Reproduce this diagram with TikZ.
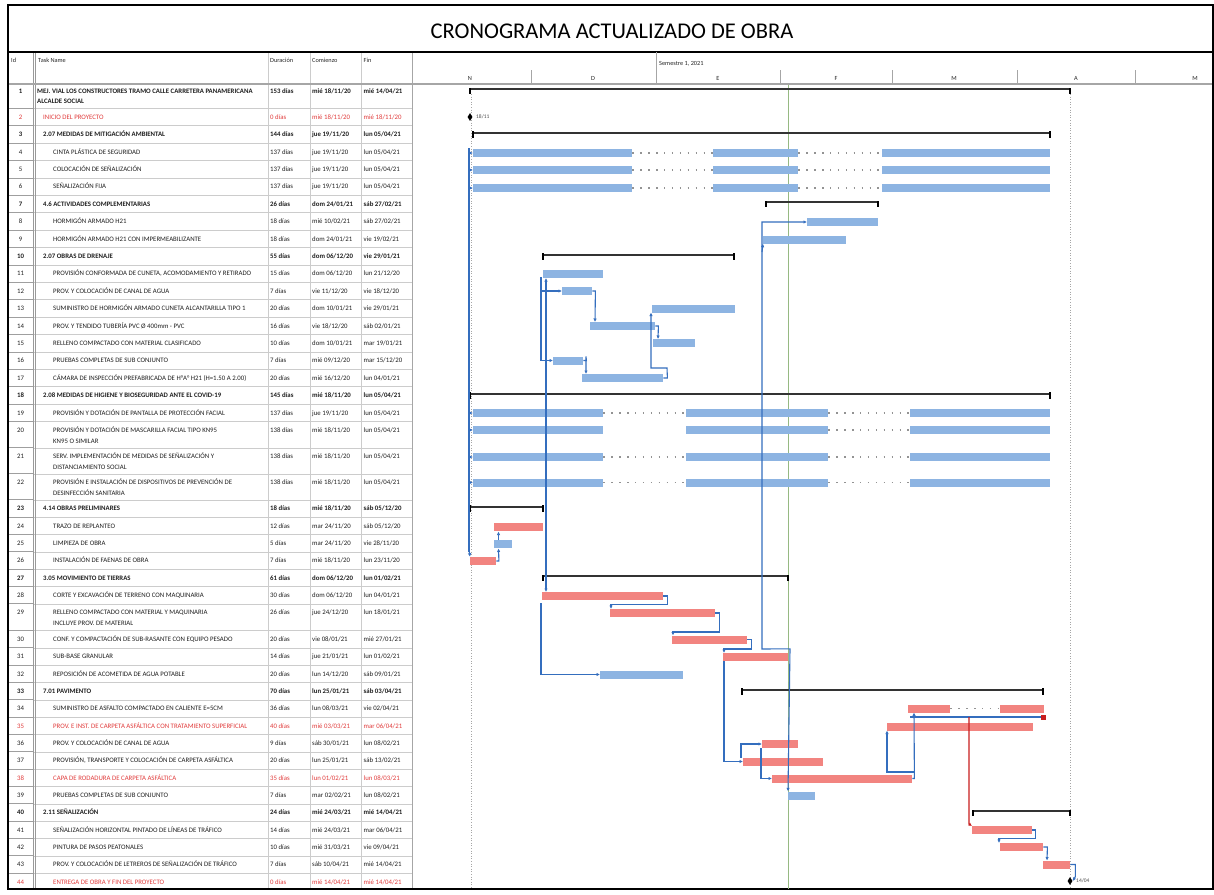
\documentclass[tikz,border=0pt]{standalone}
\usepackage{fontspec}
\setmainfont{Carlito}
\usetikzlibrary{arrows.meta,shapes.geometric}
\definecolor{barblue}{RGB}{141,180,226}
\definecolor{barred}{RGB}{242,132,128}
\definecolor{linkblue}{RGB}{52,110,190}
\definecolor{linkred}{RGB}{200,30,30}
\definecolor{txtred}{RGB}{225,60,60}
\definecolor{statgreen}{RGB}{150,185,130}
\newcommand\TRow[8]{%
  \node[cell,#4,anchor=base] (id#1) at (20.5,#2+2.3) {#1};
  \node[cell,#4] (tn#1) at (#3,#2+2.3) {#5};
  \node[cell,#4] (du#1) at (270,#2+2.3) {#6};
  \node[cell,#4] (co#1) at (312,#2+2.3) {#7};
  \node[cell,#4] (fi#1) at (363.5,#2+2.3) {#8};}
\newcommand\GBar[5]{\node[#1,minimum width={#4-#3}] (#2) at (#3,#5) {};}
\newcommand\SumBar[3]{%
  \draw[sumline] (#1,#3) -- (#2,#3);
  \fill[black] (#1-1.2,#3-1.5) rectangle (#1+1.2,#3+5);
  \fill[black] (#2-1.2,#3-1.5) rectangle (#2+1.2,#3+5);}
\newcommand\MS[4]{\node[ms] (#1) at (#2,#3) {};
  \node[mslabel] (#1l) at (#2+6,#3) {#4};}
\begin{document}
\begin{tikzpicture}[x=1pt,y=-1pt,
  cell/.style={anchor=base west,inner sep=0pt,font=\fontsize{6.8}{8}\selectfont,text=black!88},
  sumtxt/.style={font=\fontsize{6.8}{8}\selectfont\bfseries},
  redtxt/.style={text=txtred},
  hdr/.style={anchor=base west,inner sep=0pt,font=\fontsize{6.3}{7}\selectfont,text=black!85},
  bb/.style={fill=barblue,draw=none,anchor=west,minimum height=8,inner sep=0pt},
  rb/.style={fill=barred,draw=none,anchor=west,minimum height=8,inner sep=0pt},
  sumline/.style={draw=black!80,line width=2pt},
  gapdots/.style={draw=gray!85,line width=1.4pt,dash pattern=on 1.4pt off 6.5pt},
  link/.style={draw=linkblue,line width=1.1pt},
  redlink/.style={draw=linkred,line width=1.1pt},
  tip/.tip={Latex[length=3.5pt,width=3.5pt]},
  ms/.style={fill=black,diamond,inner sep=0pt,minimum width=5,minimum height=8},
  mslabel/.style={anchor=west,inner sep=0pt,font=\fontsize{5.5}{6}\selectfont,text=black!70},
  grid/.style={draw=gray!40,line width=0.5pt},
  idgrid/.style={draw=gray!75,line width=0.7pt}]
\useasboundingbox (0,0) rectangle (1214,894);
\fill[white] (0,0) rectangle (1214,894);

% ---------- title ----------
\node[font=\fontsize{22.5}{26}\selectfont,text=black] (title) at (612,31) {CRONOGRAMA ACTUALIZADO DE OBRA};

% ---------- table grid ----------
\foreach \y in {108.3,125.7,143.1,160.5,177.9,195.3,212.7,230.1,247.5,264.9,282.3,299.7,317.1,334.5,351.9,369.3,386.7,404.1,421.5,447.8,473.8,499.8,517.3,534.3,551.8,569.3,586.3,603.8,630.3,647.8,665.3,682.3,699.8,717.3,734.3,751.8,769.3,786.3,803.8,821.3,838.3,855.8,873.3}{
  \draw[grid] (33,\y) -- (412,\y);
  \draw[idgrid] (8,\y) -- (33,\y);}
\draw[grid] (268,52) -- (268,889);
\draw[grid] (310,52) -- (310,889);
\draw[grid] (361,52) -- (361,889);
\draw[draw=gray!80,line width=0.9pt] (33,52) -- (33,889);
\draw[draw=gray!80,line width=0.9pt] (35,52) -- (35,889);
\draw[draw=gray!70,line width=0.8pt] (412,52) -- (412,889);
\draw[draw=gray!70,line width=1.2pt] (8,84) -- (1213,84);
\draw[black,line width=1.5pt] (8,52) -- (1213,52);
\draw[black,line width=1.3pt] (8,5) rectangle (1213,889);

% ---------- headers ----------
\node[hdr] (hId) at (11,62) {Id};
\node[hdr] (hTask) at (38,62) {Task Name};
\node[hdr] (hDur) at (270,62) {Duración};
\node[hdr] (hCom) at (312,62) {Comienzo};
\node[hdr] (hFin) at (363.5,62) {Fin};
\node[hdr] (hSem) at (659,65) {Semestre 1, 2021};
\draw[draw=gray!70,line width=0.8pt] (656,52) -- (656,84);
\foreach \x in {531,780,892,1017,1135}{\draw[draw=gray!70,line width=0.8pt] (\x,70) -- (\x,84);}
\foreach \x/\m/\n in {470/N/mN,593/D/mD,718/E/mE,836/F/mF,954/M/mM,1076/A/mA,1195/M/mM2}{
  \node[hdr,anchor=base] (\n) at (\x,80) {\m};}

% ---------- table rows ----------
\TRow{1}{91}{37}{sumtxt}{MEJ. VIAL LOS CONSTRUCTORES TRAMO CALLE CARRETERA PANAMERICANA}{153 días}{mié 18/11/20}{mié 14/04/21}
\node[cell,sumtxt] (tn1b) at (37,103.5) {ALCALDE SOCIAL};
\TRow{2}{117}{43}{redtxt}{INICIO DEL PROYECTO}{0 días}{mié 18/11/20}{mié 18/11/20}
\TRow{3}{134.4}{43}{sumtxt}{2.07 MEDIDAS DE MITIGACIÓN AMBIENTAL}{144 días}{jue 19/11/20}{lun 05/04/21}
\TRow{4}{151.8}{53}{}{CINTA PLÁSTICA DE SEGURIDAD}{137 días}{jue 19/11/20}{lun 05/04/21}
\TRow{5}{169.2}{53}{}{COLOCACIÓN DE SEÑALIZACIÓN}{137 días}{jue 19/11/20}{lun 05/04/21}
\TRow{6}{186.6}{53}{}{SEÑALIZACIÓN FIJA}{137 días}{jue 19/11/20}{lun 05/04/21}
\TRow{7}{204}{43}{sumtxt}{4.6 ACTIVIDADES COMPLEMENTARIAS}{26 días}{dom 24/01/21}{sáb 27/02/21}
\TRow{8}{221.4}{53}{}{HORMIGÓN ARMADO H21}{18 días}{mié 10/02/21}{sáb 27/02/21}
\TRow{9}{238.8}{53}{}{HORMIGÓN ARMADO H21 CON IMPERMEABILIZANTE}{18 días}{dom 24/01/21}{vie 19/02/21}
\TRow{10}{256.2}{43}{sumtxt}{2.07 OBRAS DE DRENAJE}{55 días}{dom 06/12/20}{vie 29/01/21}
\TRow{11}{273.6}{53}{}{PROVISIÓN CONFORMADA DE CUNETA, ACOMODAMIENTO Y RETIRADO}{15 días}{dom 06/12/20}{lun 21/12/20}
\TRow{12}{291}{53}{}{PROV. Y COLOCACIÓN DE CANAL DE AGUA}{7 días}{vie 11/12/20}{vie 18/12/20}
\TRow{13}{308.4}{53}{}{SUMINISTRO DE HORMIGÓN ARMADO CUNETA ALCANTARILLA TIPO 1}{20 días}{dom 10/01/21}{vie 29/01/21}
\TRow{14}{325.8}{53}{}{PROV. Y TENDIDO TUBERÍA PVC Ø 400mm - PVC}{16 días}{vie 18/12/20}{sáb 02/01/21}
\TRow{15}{343.2}{53}{}{RELLENO COMPACTADO CON MATERIAL CLASIFICADO}{10 días}{dom 10/01/21}{mar 19/01/21}
\TRow{16}{360.6}{53}{}{PRUEBAS COMPLETAS DE SUB CONJUNTO}{7 días}{mié 09/12/20}{mar 15/12/20}
\TRow{17}{378}{53}{}{CÁMARA DE INSPECCIÓN PREFABRICADA DE H°A° H21 (H=1.50 A 2.00)}{20 días}{mié 16/12/20}{lun 04/01/21}
\TRow{18}{395.4}{43}{sumtxt}{2.08 MEDIDAS DE HIGIENE Y BIOSEGURIDAD ANTE EL COVID-19}{145 días}{mié 18/11/20}{lun 05/04/21}
\TRow{19}{412.8}{53}{}{PROVISIÓN Y DOTACIÓN DE PANTALLA DE PROTECCIÓN FACIAL}{137 días}{jue 19/11/20}{lun 05/04/21}
\TRow{20}{430.2}{53}{}{PROVISIÓN Y DOTACIÓN DE MASCARILLA FACIAL TIPO KN95}{138 días}{mié 18/11/20}{lun 05/04/21}
\node[cell] (tn20b) at (53,443.5) {KN95 O SIMILAR};
\TRow{21}{456.5}{53}{}{SERV. IMPLEMENTACIÓN DE MEDIDAS DE SEÑALIZACIÓN Y}{138 días}{mié 18/11/20}{lun 05/04/21}
\node[cell] (tn21b) at (53,469.5) {DISTANCIAMIENTO SOCIAL};
\TRow{22}{482.5}{53}{}{PROVISIÓN E INSTALACIÓN DE DISPOSITIVOS DE PREVENCIÓN DE}{138 días}{mié 18/11/20}{lun 05/04/21}
\node[cell] (tn22b) at (53,495.5) {DESINFECCIÓN SANITARIA};
\TRow{23}{508.5}{43}{sumtxt}{4.14 OBRAS PRELIMINARES}{18 días}{mié 18/11/20}{sáb 05/12/20}
\TRow{24}{526}{53}{}{TRAZO DE REPLANTEO}{12 días}{mar 24/11/20}{sáb 05/12/20}
\TRow{25}{543}{53}{}{LIMPIEZA DE OBRA}{5 días}{mar 24/11/20}{vie 28/11/20}
\TRow{26}{560.5}{53}{}{INSTALACIÓN DE FAENAS DE OBRA}{7 días}{mié 18/11/20}{lun 23/11/20}
\TRow{27}{578}{43}{sumtxt}{3.05 MOVIMIENTO DE TIERRAS}{61 días}{dom 06/12/20}{lun 01/02/21}
\TRow{28}{595}{53}{}{CORTE Y EXCAVACIÓN DE TERRENO CON MAQUINARIA}{30 días}{dom 06/12/20}{lun 04/01/21}
\TRow{29}{612.5}{53}{}{RELLENO COMPACTADO CON MATERIAL Y MAQUINARIA}{26 días}{jue 24/12/20}{lun 18/01/21}
\node[cell] (tn29b) at (53,625.5) {INCLUYE PROV. DE MATERIAL};
\TRow{30}{639}{53}{}{CONF. Y COMPACTACIÓN DE SUB-RASANTE CON EQUIPO PESADO}{20 días}{vie 08/01/21}{mié 27/01/21}
\TRow{31}{656.5}{53}{}{SUB-BASE GRANULAR}{14 días}{jue 21/01/21}{lun 01/02/21}
\TRow{32}{674}{53}{}{REPOSICIÓN DE ACOMETIDA DE AGUA POTABLE}{20 días}{lun 14/12/20}{sáb 09/01/21}
\TRow{33}{691}{43}{sumtxt}{7.01 PAVIMENTO}{70 días}{lun 25/01/21}{sáb 03/04/21}
\TRow{34}{708.5}{53}{}{SUMINISTRO DE ASFALTO COMPACTADO EN CALIENTE E=5CM}{36 días}{lun 08/03/21}{vie 02/04/21}
\TRow{35}{726}{53}{redtxt}{PROV. E INST. DE CARPETA ASFÁLTICA CON TRATAMIENTO SUPERFICIAL}{40 días}{mié 03/03/21}{mar 06/04/21}
\TRow{36}{743}{53}{}{PROV. Y COLOCACIÓN DE CANAL DE AGUA}{9 días}{sáb 30/01/21}{lun 08/02/21}
\TRow{37}{760.5}{53}{}{PROVISIÓN, TRANSPORTE Y COLOCACIÓN DE CARPETA ASFÁLTICA}{20 días}{lun 25/01/21}{sáb 13/02/21}
\TRow{38}{778}{53}{redtxt}{CAPA DE RODADURA DE CARPETA ASFÁLTICA}{35 días}{lun 01/02/21}{lun 08/03/21}
\TRow{39}{795}{53}{}{PRUEBAS COMPLETAS DE SUB CONJUNTO}{7 días}{mar 02/02/21}{lun 08/02/21}
\TRow{40}{812.5}{43}{sumtxt}{2.11 SEÑALIZACIÓN}{24 días}{mié 24/03/21}{mié 14/04/21}
\TRow{41}{830}{53}{}{SEÑALIZACIÓN HORIZONTAL PINTADO DE LÍNEAS DE TRÁFICO}{14 días}{mié 24/03/21}{mar 06/04/21}
\TRow{42}{847}{53}{}{PINTURA DE PASOS PEATONALES}{10 días}{mié 31/03/21}{vie 09/04/21}
\TRow{43}{864.5}{53}{}{PROV. Y COLOCACIÓN DE LETREROS DE SEÑALIZACIÓN DE TRÁFICO}{7 días}{sáb 10/04/21}{mié 14/04/21}
\TRow{44}{882}{53}{redtxt}{ENTREGA DE OBRA Y FIN DEL PROYECTO}{0 días}{mié 14/04/21}{mié 14/04/21}

% ---------- reference lines ----------
\draw[draw=gray!70,line width=1pt,dash pattern=on 1pt off 1.6pt] (471.5,94) -- (471.5,889);
\draw[draw=gray!70,line width=1pt,dash pattern=on 1pt off 1.6pt] (1070,94) -- (1070,889);
\draw[draw=statgreen,line width=1pt] (788,85) -- (788,889);

% ---------- summary bars ----------
\SumBar{470}{1070}{89}
\SumBar{473}{1050}{132.5}
\SumBar{766}{878}{202}
\SumBar{543}{734}{254.5}
\SumBar{470}{1050}{393.5}
\SumBar{470}{543}{506.5}
\SumBar{543}{788}{576}
\SumBar{742}{1043}{689.5}
\SumBar{973}{1070}{811}

% ---------- milestones ----------
\MS{m2}{470}{117}{18/11}
\MS{m44}{1070}{881}{14/04}

% ---------- task bars ----------
\foreach \r/\y in {4/153,5/170,6/188}{
  \GBar{bb}{b\r a}{473}{632}{\y}
  \GBar{bb}{b\r b}{713}{798}{\y}
  \GBar{bb}{b\r c}{882}{1050}{\y}
  \draw[gapdots] (b\r a.east) -- (b\r b.west);
  \draw[gapdots] (b\r b.east) -- (b\r c.west);}
\foreach \r/\y in {19/413,20/430,21/457,22/482.5}{
  \GBar{bb}{b\r a}{473}{603}{\y}
  \GBar{bb}{b\r b}{686}{828}{\y}
  \GBar{bb}{b\r c}{910}{1050}{\y}
  \draw[gapdots] (b\r b.east) -- (b\r c.west);}
\draw[gapdots] (b19a.east) -- (b19b.west);
\draw[gapdots] (b21a.east) -- (b21b.west);
\draw[gapdots] (b22a.east) -- (b22b.west);
\GBar{bb}{b8}{807}{878}{222}
\GBar{bb}{b9}{763}{846}{239.5}
\GBar{bb}{b11}{543}{603}{274}
\GBar{bb}{b12}{562}{592}{291}
\GBar{bb}{b13}{652}{735}{308.5}
\GBar{bb}{b14}{590}{655}{326}
\GBar{bb}{b15}{653}{695}{343}
\GBar{bb}{b16}{553}{583}{360.5}
\GBar{bb}{b17}{582}{663}{378}
\GBar{rb}{b24}{494}{543}{527}
\GBar{bb}{b25}{494}{512}{544}
\GBar{rb}{b26}{470}{496}{561}
\GBar{rb}{b28}{542}{663}{596}
\GBar{rb}{b29}{610}{715}{613}
\GBar{rb}{b30}{672}{747}{639.5}
\GBar{rb}{b31}{723}{788}{657}
\GBar{bb}{b32}{600}{683}{674.5}
\GBar{rb}{b34a}{908}{950}{708.5}
\GBar{rb}{b34b}{1000}{1044}{708.5}
\draw[gapdots] (b34a.east) -- (b34b.west);
\GBar{rb}{b35}{887}{1033}{726.5}
\GBar{rb}{b36}{762}{798}{744}
\GBar{rb}{b37}{743}{823}{761.5}
\GBar{rb}{b38}{772}{912}{778.5}
\GBar{bb}{b39}{788}{815}{795.5}
\GBar{rb}{b41}{972}{1032}{830}
\GBar{rb}{b42}{1000}{1043}{847}
\GBar{rb}{b43}{1043}{1070}{864.5}

% ---------- links ----------
\draw[link] (469,148) -- (469,552);
\foreach \r in {4a,5a,6a,19a,20a,21a,22a}{\draw[link,-tip] (469,0 |- b\r.west) -- (b\r.west);}
\draw[link,-tip] (469,549) -- (b26.north west);
\draw[link,tip-tip] (b39.north west) -- ++(2,-142.5) -- (762,649) -- (762,222) -- (b8.west);
\draw[link,-tip] (762,252) -- (b9.south west);
\draw[link,-tip] (b28.east) -- ++(4,0) -- ++(0,8.5) -- (611,604.5) -- (611,609);
\draw[link,-tip] (b29.east) -- ++(4,0) -- ++(0,19) -- (673,632) -- (673,635.5);
\draw[link,-tip] (b30.east) -- ++(4,0) -- ++(0,9.5) -- (724,649) -- (724,653);
\draw[link,-tip] (724,661) -- (724,761.5) -- (b37.west);
\draw[link,-tip] (741,757.5) -- (741,744) -- (b36.west);
\draw[link,-tip] (761,748) -- (761,778.5) -- (b38.west);
\draw[link,tip-tip] (546,278) -- (546,592);
\draw[link,-tip] (541,603) -- (541,674.5) -- (b32.west);
\draw[link] (541,277) -- (541,360.5);
\draw[link,-tip] (541,291) -- (b12.west);
\draw[link,-tip] (541,360.5) -- (b16.west);
\draw[link,-tip] (b12.east) -- ++(3,0) -- (595,322);
\draw[link,-tip] (b14.east) -- ++(3,0) -- (658,339);
\draw[link,-tip] (b17.east) -- ++(4,0) -- (667,368) -- (651,368) -- (651,312.5);
\draw[link,-tip] (b16.east) -- ++(3,0) -- (586,356.5) -- (586,374);
\draw[link,-tip] (b26.east) -- ++(2.5,0) -- (498.5,548.5);
\draw[link,-tip] (498.5,540) -- (498.5,531.5);
\draw[link,-tip] (b38.east) -- ++(2,0) -- (914,712.5);
\draw[link,-tip] (914,772) -- (887,772) -- (887,730.5);
\draw[link] (910,717) -- (1042,717);
\fill[linkred] (1041,715) rectangle (1046,719.5);
\draw[redlink,-tip] (969,717) -- (969,824) -- (972,826);
\draw[link,-tip] (b41.east) -- ++(3,0) -- ++(0,8.5) -- (999,838.5) -- (999,843);
\draw[link,-tip] (b42.east) -- ++(4,0) -- (1047,860.5);
\draw[link,-tip] (b43.east) -- ++(5,0) -- ++(0,12) -- (m44.east);
\end{tikzpicture}
\end{document}
